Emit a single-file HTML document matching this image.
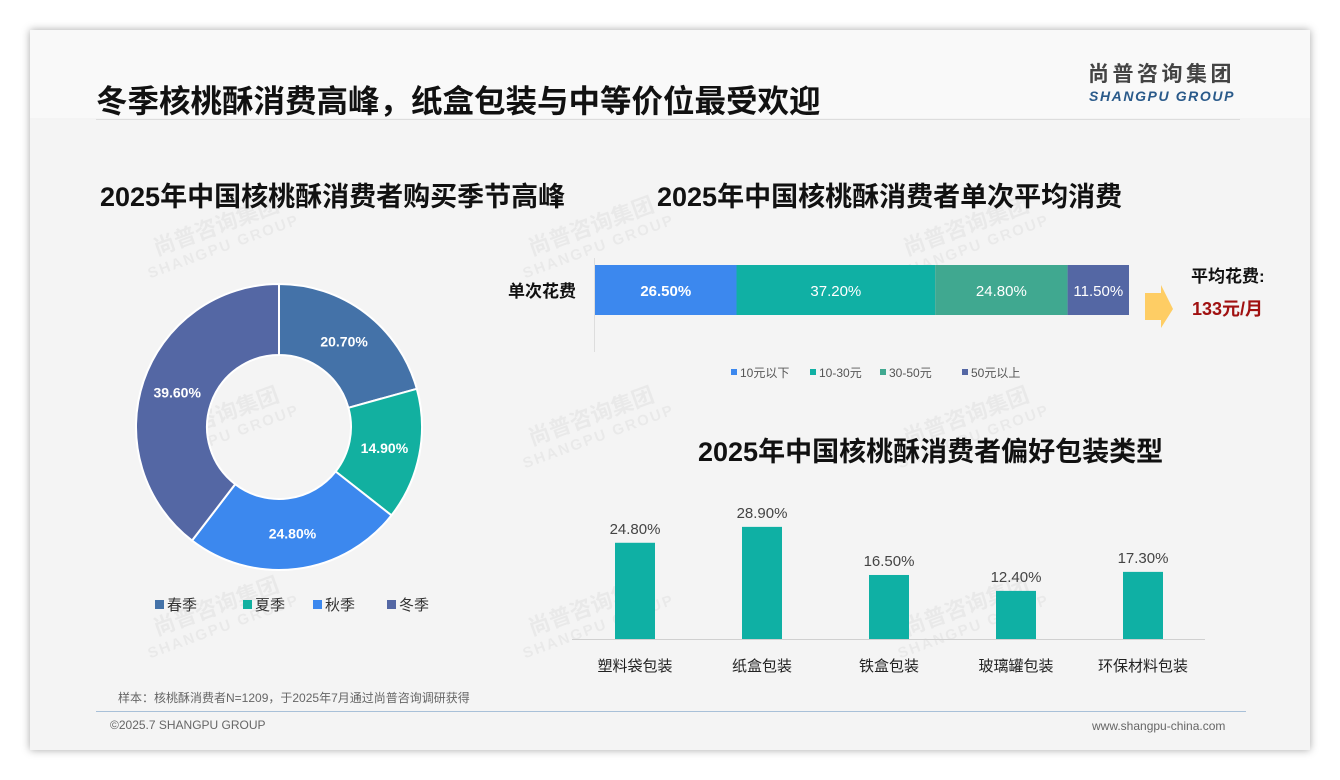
<!DOCTYPE html>
<html><head><meta charset="utf-8"><style>
body{margin:0;width:1340px;height:780px;background:#fff;font-family:"Liberation Sans","Noto Sans CJK SC",sans-serif;overflow:hidden;position:relative}
.card{position:absolute;left:30px;top:30px;width:1280px;height:720px;background:#f4f4f4;box-shadow:0 0 8px rgba(0,0,0,.35)}
.abs{position:absolute;white-space:nowrap}
.wm{position:absolute;color:rgba(0,0,0,.045);font-weight:bold;font-size:22px;transform:rotate(-20deg);line-height:22px;text-align:center}
.wm span{display:block;font-size:15px;letter-spacing:2px}
</style></head><body>
<div class="card"></div>
<div class="abs" style="left:30px;top:30px;width:1280px;height:88px;background:#f9f9f9"></div>
<div class="abs" style="left:96px;top:76px;font-size:31.5px;font-weight:bold;color:#111">冬季核桃酥消费高峰，纸盒包装与中等价位最受欢迎</div>
<div class="abs" style="left:1088px;top:63px;font-size:21px;line-height:24px;font-weight:bold;color:#444;letter-spacing:3.5px">尚普咨询集团</div>
<div class="abs" style="left:1089px;top:88px;font-size:14px;line-height:16px;font-weight:bold;font-style:italic;color:#2a5a8a;letter-spacing:1.6px">SHANGPU GROUP</div>
<div class="abs" style="left:96px;top:119px;width:1144px;height:1px;background:#ddd"></div>

<div class="wm" style="left:140px;top:215px">尚普咨询集团<span>SHANGPU GROUP</span></div>
<div class="wm" style="left:515px;top:215px">尚普咨询集团<span>SHANGPU GROUP</span></div>
<div class="wm" style="left:890px;top:215px">尚普咨询集团<span>SHANGPU GROUP</span></div>
<div class="wm" style="left:140px;top:405px">尚普咨询集团<span>SHANGPU GROUP</span></div>
<div class="wm" style="left:515px;top:405px">尚普咨询集团<span>SHANGPU GROUP</span></div>
<div class="wm" style="left:890px;top:405px">尚普咨询集团<span>SHANGPU GROUP</span></div>
<div class="wm" style="left:140px;top:595px">尚普咨询集团<span>SHANGPU GROUP</span></div>
<div class="wm" style="left:515px;top:595px">尚普咨询集团<span>SHANGPU GROUP</span></div>
<div class="wm" style="left:890px;top:595px">尚普咨询集团<span>SHANGPU GROUP</span></div>

<div class="abs" style="left:100px;top:175px;font-size:27px;font-weight:bold;color:#111">2025年中国核桃酥消费者购买季节高峰</div>
<div class="abs" style="left:657px;top:175px;font-size:27px;font-weight:bold;color:#111">2025年中国核桃酥消费者单次平均消费</div>
<div class="abs" style="left:698px;top:430px;font-size:27px;font-weight:bold;color:#111">2025年中国核桃酥消费者偏好包装类型</div>

<svg class="abs" style="left:0;top:0" width="1340" height="780" id="svg"></svg>

<div class="abs" style="left:118px;top:689px;font-size:12px;color:#666">样本：核桃酥消费者N=1209，于2025年7月通过尚普咨询调研获得</div>
<div class="abs" style="left:96px;top:711px;width:1150px;height:1px;background:#a8c0d8"></div>
<div class="abs" style="left:110px;top:718px;font-size:12px;color:#666">©2025.7 SHANGPU GROUP</div>
<div class="abs" style="left:1092px;top:719px;font-size:12px;color:#666">www.shangpu-china.com</div>

<script>
const seasons=["春季","夏季","秋季","冬季"];
const seasonVals=[20.7,14.9,24.8,39.6];
const seasonColors=["#4472a8","#12b0a0","#3c88ee","#5467a4"];
const priceCats=["10元以下","10-30元","30-50元","50元以上"];
const priceVals=[26.5,37.2,24.8,11.5];
const priceColors=["#3c88ee","#10b0a4","#40a890","#5467a4"];
const pkgCats=["塑料袋包装","纸盒包装","铁盒包装","玻璃罐包装","环保材料包装"];
const pkgVals=[24.8,28.9,16.5,12.4,17.3];

const NS="http://www.w3.org/2000/svg",svg=document.getElementById("svg");
function mk(t,a,txt){const e=document.createElementNS(NS,t);for(const k in a)e.setAttribute(k,a[k]);if(txt!=null)e.textContent=txt;svg.appendChild(e);return e;}
const FF='"Liberation Sans","Noto Sans CJK SC",sans-serif';

const cx=279,cy=427,R=143,r=72,tot=seasonVals.reduce((a,b)=>a+b,0);
let ang=0;
seasonVals.forEach((v,i)=>{
  const a0=ang,a1=ang+v/tot*2*Math.PI;ang=a1;
  const p=(rad,a)=>[cx+rad*Math.sin(a),cy-rad*Math.cos(a)];
  const lg=(a1-a0)>Math.PI?1:0;
  const [x0,y0]=p(R,a0),[x1,y1]=p(R,a1),[x2,y2]=p(r,a1),[x3,y3]=p(r,a0);
  const s=mk("path",{d:`M${x0},${y0}A${R},${R} 0 ${lg} 1 ${x1},${y1}L${x2},${y2}A${r},${r} 0 ${lg} 0 ${x3},${y3}Z`,fill:seasonColors[i],stroke:"#fff","stroke-width":2});
  
  
  const m=(a0+a1)/2,[lx,ly]=p((R+r)/2,m);
  const t=mk("text",{x:lx,y:ly+5,"text-anchor":"middle","font-size":14,"font-weight":"bold",fill:"#fff","font-family":FF},seasonVals[i].toFixed(2)+"%");
  
  
});
let lx0=155;
seasons.forEach((s,i)=>{
  const b=mk("rect",{x:lx0,y:600,width:9,height:9,fill:seasonColors[i]});
  
  
  const t=mk("text",{x:lx0+12,y:610,"font-size":15,fill:"#333","font-family":FF},s);
  
  
  lx0+=[88,70,74,70][i];
});

const sx0=595,sx1=1129,sy=265,sh=50,st=priceVals.reduce((a,b)=>a+b,0);
const xs=v=>v/st*(sx1-sx0);
mk("line",{x1:594.5,y1:258,x2:594.5,y2:352,stroke:"#ddd"});
const yl=mk("text",{x:576,y:297,"text-anchor":"end","font-size":17,"font-weight":"bold",fill:"#111","font-family":FF},"单次花费");


let cx2=sx0;
priceVals.forEach((v,i)=>{
  const w=xs(v);
  const b=mk("rect",{x:cx2,y:sy,width:w,height:sh,fill:priceColors[i]});
  
  
  const t=mk("text",{x:cx2+w/2,y:sy+31,"text-anchor":"middle","font-size":15,"font-weight":i==0?"bold":"normal",fill:"#fff","font-family":FF},v.toFixed(2)+"%");
  
  
  cx2+=w;
});
let lgx=731;
priceCats.forEach((c,i)=>{
  const b=mk("rect",{x:lgx,y:369,width:6,height:6,fill:priceColors[i]});
  
  
  const t=mk("text",{x:lgx+9,y:377,"font-size":12,fill:"#555","font-family":FF},c);
  
  
  lgx+=[79,70,82,0][i];
});
const ar=mk("path",{d:"M1145,293 L1161,293 L1161,285 L1173,309 L1161,328 L1161,320 L1145,320 Z",fill:"#ffc54a",opacity:.85});


const a1t=mk("text",{x:1191,y:282,"font-size":17,"font-weight":"bold",fill:"#111","font-family":FF},"平均花费:");


const a2t=mk("text",{x:1192,y:315,"font-size":18,"font-weight":"bold",fill:"#a01010","font-family":FF},"133元/月");



const base=639,ppu=3.88,bx0=635,step=127,bw=40;
const ax=mk("line",{x1:572,y1:base+0.5,x2:1205,y2:base+0.5,stroke:"#d0d0d0"});


pkgVals.forEach((v,i)=>{
  const c=bx0+i*step,h=v*ppu;
  const b=mk("rect",{x:c-bw/2,y:base-h,width:bw,height:h,fill:"#0fb0a4"});
  
  
  const t=mk("text",{x:c,y:base-h-9,"text-anchor":"middle","font-size":15,fill:"#444","font-family":FF},v.toFixed(2)+"%");
  
  
  const l=mk("text",{x:c,y:671,"text-anchor":"middle","font-size":15,fill:"#222","font-family":FF},pkgCats[i]);
  
  
});
</script>
</body></html>
